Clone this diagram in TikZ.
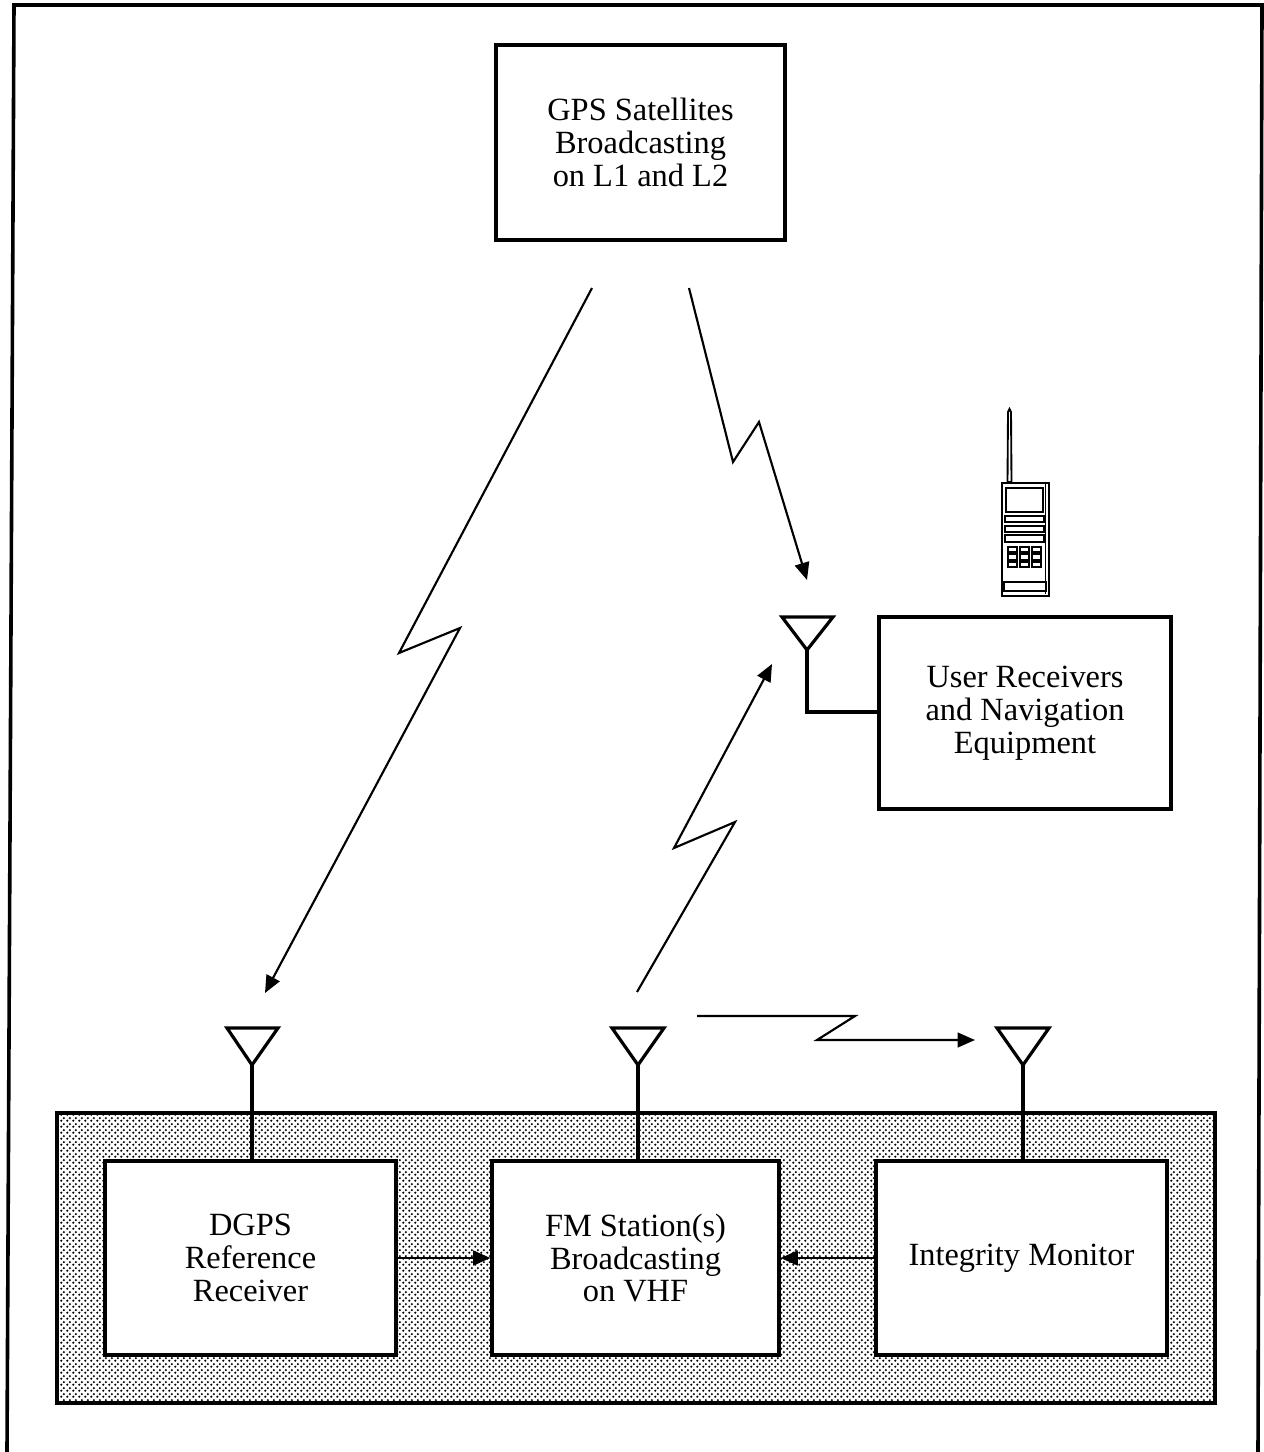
\documentclass[tikz,border=0pt]{standalone}
\usepackage{fontspec}
\setmainfont{Liberation Serif}
\usetikzlibrary{arrows.meta,patterns,calc}
\pgfdeclarepatternformonly{halftone}{\pgfpointorigin}{\pgfpoint{4.5pt}{4.5pt}}{\pgfpoint{4.5pt}{4.5pt}}{%
  \pgfpathcircle{\pgfpoint{1.125pt}{1.125pt}}{1.05pt}%
  \pgfpathcircle{\pgfpoint{3.375pt}{3.375pt}}{1.05pt}%
  \pgfusepath{fill}%
}
\tikzset{
  blockbox/.style={draw=black,line width=2.3pt,fill=white,align=center,inner sep=0pt,
    font=\fontsize{24.3}{24.6}\selectfont},
  radio/.style={draw=black,line width=1.6pt,line join=miter,-{Triangle[length=13pt,width=11pt]}},
  link/.style={draw=black,line width=2pt,-{Triangle[length=13pt,width=11pt]}},
  stem/.style={draw=black,line width=2.6pt,line join=miter},
  aerial/.style={draw=black,line width=2.4pt,line join=miter},
  phone/.style={draw=black,line width=1.1pt},
}
\newcommand{\blockat}[6]{% name, left, top, right, bottom, text
  \node[blockbox,minimum width={(#4-#2)*0.75pt},minimum height={(#5-#3)*0.75pt},anchor=center] (#1)
    at ({(#2+#4)/2},{(#3+#5)/2}) {#6};}
\begin{document}
\begin{tikzpicture}[x=0.75pt,y=-0.75pt]
\useasboundingbox (0,0) rectangle (1263,1452);
% outer frame, slightly skewed as scanned, open at the page bottom
\coordinate (fbl) at (7,1452);
\coordinate (ftl) at (14,5);
\coordinate (ftr) at (1262,5);
\coordinate (fbr) at (1258,1452);
\draw[line width=2.7pt] (fbl) -- (ftl) -- (ftr) -- (fbr);
% shaded ground panel
\node[draw=black,line width=2.3pt,pattern=halftone,pattern color=black,inner sep=0pt,
  minimum width={1158*0.75pt},minimum height={290*0.75pt}] (panel) at (636,1258) {};
% boxes
\blockat{gps}{496}{45}{785}{240}{GPS Satellites\\Broadcasting\\on L1 and L2}
\blockat{user}{879}{617}{1171}{809}{User Receivers\\and Navigation\\Equipment}
\blockat{dgps}{105}{1161}{396}{1355}{DGPS\\Reference\\Receiver}
\blockat{fm}{492}{1161}{779}{1355}{FM Station(s)\\Broadcasting\\on VHF}
\blockat{mon}{876}{1161}{1167}{1355}{Integrity Monitor}
% antennas
\coordinate (a1) at (252,1065); \coordinate (a1l) at (227,1028); \coordinate (a1r) at (278,1028);
\coordinate (a2) at (638,1065); \coordinate (a2l) at (612,1028); \coordinate (a2r) at (664,1028);
\coordinate (a3) at (1023,1065); \coordinate (a3l) at (997,1028); \coordinate (a3r) at (1049,1028);
\coordinate (a4) at (807,650); \coordinate (a4l) at (782,617); \coordinate (a4r) at (833,617);
\foreach \a in {a1,a2,a3,a4}
  \draw[aerial] (\a) -- (\a l) -- (\a r) -- cycle;
\draw[stem] (a1) -- (a1 |- dgps.north);
\draw[stem] (a2) -- (a2 |- fm.north);
\draw[stem] (a3) -- (a3 |- mon.north);
\coordinate (a4c) at (807,712);
\draw[stem] (a4) -- (a4c) -- (a4c -| user.west);
% links between boxes
\draw[link] (dgps.east |- 0,1258) -- (fm.west |- 0,1258);
\draw[link] (mon.west |- 0,1258) -- (fm.east |- 0,1258);
% radio paths
\coordinate (r1a) at (592,288); \coordinate (r1b) at (399,653); \coordinate (r1c) at (460,628); \coordinate (r1d) at (265,993);
\draw[radio] (r1a) -- (r1b) -- (r1c) -- (r1d);
\coordinate (r2a) at (689,288); \coordinate (r2b) at (733,462); \coordinate (r2c) at (759,422); \coordinate (r2d) at (807,580);
\draw[radio] (r2a) -- (r2b) -- (r2c) -- (r2d);
\coordinate (r3a) at (637,992); \coordinate (r3b) at (735,822); \coordinate (r3c) at (674,848); \coordinate (r3d) at (772,664);
\draw[radio] (r3a) -- (r3b) -- (r3c) -- (r3d);
\coordinate (r4a) at (697,1016); \coordinate (r4b) at (855,1016); \coordinate (r4c) at (817,1040); \coordinate (r4d) at (975,1040);
\draw[radio] (r4a) -- (r4b) -- (r4c) -- (r4d);
% handset
\draw[phone,line width=1.4pt,fill=white] (1007.5,482) -- (1008,412) -- (1009.5,409) -- (1011,412) -- (1011.5,482) -- cycle;
\draw[phone,line width=2pt] (1002,483) rectangle (1049,596);
\draw[phone,line width=0.7pt] (1045,484) -- (1045,594);
\draw[phone,line width=1.6pt] (1006,488) rectangle (1043,512);
\foreach \yt/\yb in {516/522,526/532,535/542} \draw[phone] (1005,\yt) rectangle (1044,\yb);
\foreach \yt/\yb in {547/552,554/560,562/567}
  \foreach \xl/\xr in {1008/1017,1020/1029,1032/1041}
    \draw[phone] (\xl,\yt) rectangle (\xr,\yb);
\draw[phone,line width=1.4pt] (1004,582) rectangle (1046,591);
\end{tikzpicture}
\end{document}
